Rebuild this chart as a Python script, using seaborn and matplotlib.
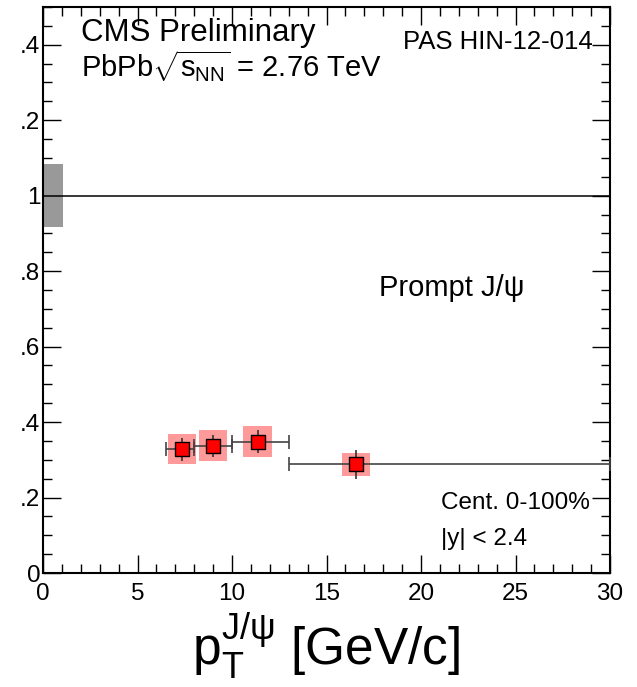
import matplotlib
matplotlib.use("Agg")
import matplotlib.pyplot as plt
from matplotlib.patches import Rectangle
from matplotlib.ticker import MultipleLocator
import seaborn as sns
import pandas as pd

# Nuclear modification factor of prompt J/psi vs pT
pt = [7.35, 9.0, 11.35, 16.55]
pt_lo = [6.5, 8.0, 10.0, 13.0]
pt_hi = [8.0, 10.0, 13.0, 30.0]
raa = [0.328, 0.337, 0.348, 0.288]
stat_err = [0.030, 0.030, 0.031, 0.039]
syst_err = [0.040, 0.041, 0.041, 0.030]
syst_halfwidth = 0.75

# global (normalisation) uncertainty at unity
global_unc = 0.083
global_box_width = 1.05

ytick_vals = [0.0, 0.2, 0.4, 0.6, 0.8, 1.0, 1.2, 1.4]
ytick_text = ["0", ".2", ".4", ".6", ".8", "1", ".2", ".4"]
xtick_vals = [0, 5, 10, 15, 20, 25, 30]

sns.set_theme(style="ticks")
plt.rcParams["font.family"] = ["Liberation Sans", "DejaVu Sans"]
plt.rcParams["mathtext.fontset"] = "custom"
plt.rcParams["mathtext.rm"] = "Liberation Sans"
plt.rcParams["mathtext.it"] = "Liberation Sans"
plt.rcParams["mathtext.bf"] = "Liberation Sans:bold"

W, H = 637, 687
fig = plt.figure(figsize=(W / 100, H / 100), dpi=100)
ax = fig.add_axes([43 / W, 114 / H, 567 / W, 566 / H])
ax.set_xlim(0, 30)
ax.set_ylim(0, 1.5)

df = pd.DataFrame({"pt": pt, "lo": pt_lo, "hi": pt_hi, "raa": raa,
                   "stat": stat_err, "syst": syst_err})

# global uncertainty box
ax.add_patch(Rectangle((0, 1 - global_unc), global_box_width, 2 * global_unc,
                       facecolor="#999999", edgecolor="none", zorder=1))
ax.axhline(1.0, color="black", lw=1.1, zorder=2)

# systematic boxes
for _, r in df.iterrows():
    ax.add_patch(Rectangle((r.pt - syst_halfwidth, r.raa - r.syst),
                           2 * syst_halfwidth, 2 * r.syst,
                           facecolor="#ff9a9a", edgecolor="none", zorder=2))

# bin widths with end caps
ax.errorbar(df.pt, df.raa,
            xerr=[df.pt - df.lo, df.hi - df.pt],
            fmt="none", ecolor="#444444", elinewidth=1.2, capsize=5,
            capthick=1.2, zorder=3)
# statistical errors
ax.errorbar(df.pt, df.raa, yerr=df.stat, fmt="none", ecolor="#333333",
            elinewidth=1.2, capsize=0, zorder=3)

sns.scatterplot(data=df, x="pt", y="raa", marker="s", s=95, color="#ff0000",
                edgecolor="black", linewidth=1.0, ax=ax, zorder=4, legend=False)

ax.xaxis.set_major_locator(MultipleLocator(5))
ax.xaxis.set_minor_locator(MultipleLocator(1))
ax.yaxis.set_minor_locator(MultipleLocator(0.05))
ax.set_xticks(xtick_vals)
ax.set_xticklabels([str(v) for v in xtick_vals])
ax.set_yticks(ytick_vals)
ax.set_yticklabels(ytick_text)
ax.tick_params(which="both", direction="in", top=True, right=True,
               color="black", width=1.0, labelsize=17.5, labelcolor="black")
ax.tick_params(which="major", length=13)
ax.tick_params(which="minor", length=6.5)
ax.tick_params(axis="y", pad=2)
ax.tick_params(axis="x", pad=7)
for s in ax.spines.values():
    s.set_linewidth(1.5)
    s.set_color("black")

ax.set_ylabel("")
ax.set_xlabel(r"$\mathregular{p_{T}^{J/\psi}}$ [GeV/c]", fontsize=37,
              color="black", labelpad=4)

def px(x, y):
    return x / W, 1 - y / H

fig.text(*px(81, 41), "CMS Preliminary", fontsize=22.5, color="black",
         ha="left", va="baseline")
fig.text(*px(81, 77), r"PbPb$\sqrt{s_{\mathregular{NN}}}$ = 2.76 TeV",
         fontsize=21, color="black", ha="left", va="baseline")
fig.text(*px(593, 49), "PAS HIN-12-014", fontsize=18.5, color="black",
         ha="right", va="baseline")
fig.text(*px(379, 296), "Prompt J/ψ", fontsize=21, color="black",
         ha="left", va="baseline")
fig.text(*px(441, 509), "Cent. 0-100%", fontsize=17.5, color="black",
         ha="left", va="baseline")
fig.text(*px(441, 545), "|y| < 2.4", fontsize=17.5, color="black",
         ha="left", va="baseline")

fig.savefig("out.png", dpi=100, facecolor="white")
